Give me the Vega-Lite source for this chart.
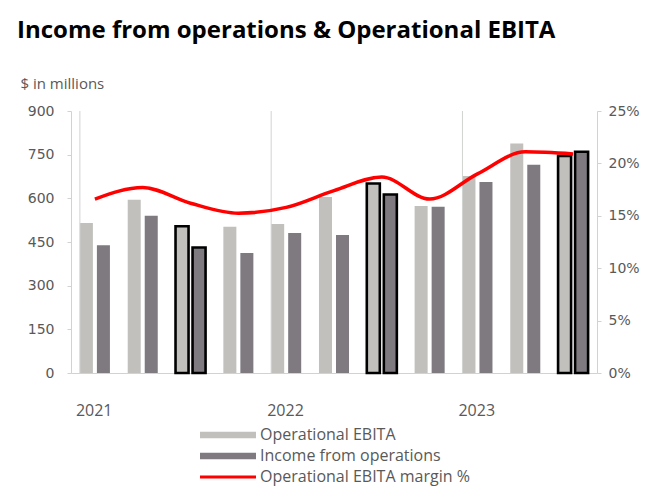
{
  "$schema": "https://vega.github.io/schema/vega-lite/v6.json",
  "width": 526,
  "height": 262,
  "autosize": {"type": "none"},
  "padding": {"left": 71, "top": 111, "right": 72, "bottom": 119},
  "background": "white",
  "title": {
    "text": "Income from operations & Operational EBITA",
    "anchor": "start",
    "frame": "group",
    "dx": -54,
    "offset": 14,
    "baseline": "alphabetic",
    "font": "Open Sans",
    "fontSize": 24,
    "fontWeight": "bold",
    "color": "#000000"
  },
  "config": {
    "view": {"stroke": null},
    "axis": {
      "labelFont": "DejaVu Sans",
      "labelFontSize": 14,
      "labelColor": "#595959",
      "domainColor": "#d0d3d0",
      "tickColor": "#d0d3d0",
      "tickSize": 4
    }
  },
  "data": {
    "values": [
      {"period": "2021 Q1", "quarter": "Q1", "Operational EBITA": 515, "Income from operations": 439, "margin": 16.6},
      {"period": "2021 Q2", "quarter": "Q2", "Operational EBITA": 595, "Income from operations": 540, "margin": 17.7},
      {"period": "2021 Q3", "quarter": "Q3", "Operational EBITA": 504, "Income from operations": 431, "margin": 16.2},
      {"period": "2021 Q4", "quarter": "Q4", "Operational EBITA": 502, "Income from operations": 412, "margin": 15.25},
      {"period": "2022 Q1", "quarter": "Q1", "Operational EBITA": 512, "Income from operations": 481, "margin": 15.8},
      {"period": "2022 Q2", "quarter": "Q2", "Operational EBITA": 605, "Income from operations": 474, "margin": 17.4},
      {"period": "2022 Q3", "quarter": "Q3", "Operational EBITA": 651, "Income from operations": 613, "margin": 18.7},
      {"period": "2022 Q4", "quarter": "Q4", "Operational EBITA": 574, "Income from operations": 571, "margin": 16.6},
      {"period": "2023 Q1", "quarter": "Q1", "Operational EBITA": 677, "Income from operations": 656, "margin": 19.0},
      {"period": "2023 Q2", "quarter": "Q2", "Operational EBITA": 788, "Income from operations": 715, "margin": 21.1},
      {"period": "2023 Q3", "quarter": "Q3", "Operational EBITA": 746, "Income from operations": 760, "margin": 20.9}
    ]
  },
  "layer": [
    {
      "transform": [{"fold": ["Operational EBITA", "Income from operations"], "as": ["series", "amount"]}],
      "mark": {"type": "bar", "stroke": "#000000"},
      "encoding": {
        "x": {
          "field": "period",
          "type": "nominal",
          "sort": null,
          "scale": {
            "domain": ["2021 Q1", "2021 Q2", "2021 Q3", "2021 Q4", "2022 Q1", "2022 Q2", "2022 Q3", "2022 Q4", "2023 Q1", "2023 Q2", "2023 Q3"],
            "paddingInner": 0.372,
            "paddingOuter": 0.186
          },
          "axis": {
            "title": null,
            "labelAngle": 0,
            "ticks": false,
            "labelExpr": "indexof(datum.value, 'Q1') >= 0 ? slice(datum.value, 0, 4) : ''",
            "labelAlign": "left",
            "labelOffset": -19,
            "labelPadding": 29,
            "labelFont": "Open Sans",
            "labelFontSize": 16,
            "grid": false
          }
        },
        "xOffset": {
          "field": "series",
          "type": "nominal",
          "sort": ["Operational EBITA", "Income from operations"],
          "scale": {"paddingInner": 0.235, "paddingOuter": 0}
        },
        "y": {
          "field": "amount",
          "type": "quantitative",
          "scale": {"domain": [0, 900], "nice": false},
          "axis": {
            "title": "$ in millions",
            "titleAngle": 0,
            "titleAlign": "left",
            "titleBaseline": "middle",
            "titleX": -51,
            "titleY": -28,
            "titleFont": "Open Sans",
            "titleFontSize": 15,
            "titleFontWeight": "normal",
            "titleColor": "#595959",
            "values": [0, 150, 300, 450, 600, 750, 900],
            "grid": false,
            "labelPadding": 13
          }
        },
        "color": {
          "field": "series",
          "type": "nominal",
          "scale": {
            "domain": ["Operational EBITA", "Income from operations", "Operational EBITA margin %"],
            "range": ["#c1c0bd", "#7e7a80", "#ff0000"]
          },
          "legend": {
            "title": null,
            "orient": "none",
            "legendX": 147,
            "legendY": 314,
            "direction": "vertical",
            "padding": 0,
            "symbolSize": 400,
            "symbolType": "M-2.8,-0.33H2.8V0.33H-2.8Z",
            "labelOffset": 22,
            "labelLimit": 400,
            "rowPadding": 3,
            "labelFont": "Open Sans",
            "labelFontSize": 16,
            "labelColor": "#595959",
            "encode": {
              "symbols": {
                "update": {
                  "shape": {"signal": "datum.value === 'Operational EBITA margin %' ? 'M-2.8,-0.14H2.8V0.14H-2.8Z' : 'M-2.8,-0.33H2.8V0.33H-2.8Z'"},
                  "fill": {"signal": "scale('color', datum.value)"},
                  "fillOpacity": {"value": 1},
                  "strokeWidth": {"value": 0}
                }
              }
            }
          }
        },
        "strokeWidth": {"condition": {"test": "datum.quarter === 'Q3'", "value": 2.6}, "value": 0}
      }
    },
    {
      "transform": [{"filter": "datum.quarter === 'Q1'"}],
      "mark": {"type": "rule", "color": "#d0d3d0", "strokeWidth": 1},
      "encoding": {
        "x": {"field": "period", "type": "nominal", "sort": null, "bandPosition": 0}
      }
    },
    {
      "mark": {"type": "line", "interpolate": "monotone", "strokeWidth": 3.5},
      "encoding": {
        "x": {"field": "period", "type": "nominal", "sort": null},
        "y": {
          "field": "margin",
          "type": "quantitative",
          "scale": {"domain": [0, 25], "nice": false},
          "axis": {
            "orient": "right",
            "title": null,
            "values": [0, 5, 10, 15, 20, 25],
            "labelExpr": "datum.value + '%'",
            "grid": false,
            "labelPadding": 7
          }
        },
        "color": {
          "datum": "Operational EBITA margin %",
          "legend": {
            "title": null,
            "orient": "none",
            "legendX": 147,
            "legendY": 314,
            "direction": "vertical",
            "padding": 0,
            "symbolSize": 400,
            "symbolType": "M-2.8,-0.33H2.8V0.33H-2.8Z",
            "labelOffset": 22,
            "labelLimit": 400,
            "rowPadding": 3,
            "labelFont": "Open Sans",
            "labelFontSize": 16,
            "labelColor": "#595959",
            "encode": {
              "symbols": {
                "update": {
                  "shape": {"signal": "datum.value === 'Operational EBITA margin %' ? 'M-2.8,-0.14H2.8V0.14H-2.8Z' : 'M-2.8,-0.33H2.8V0.33H-2.8Z'"},
                  "fill": {"signal": "scale('color', datum.value)"},
                  "fillOpacity": {"value": 1},
                  "strokeWidth": {"value": 0}
                }
              }
            }
          }
        }
      }
    }
  ],
  "resolve": {"scale": {"y": "independent"}}
}
